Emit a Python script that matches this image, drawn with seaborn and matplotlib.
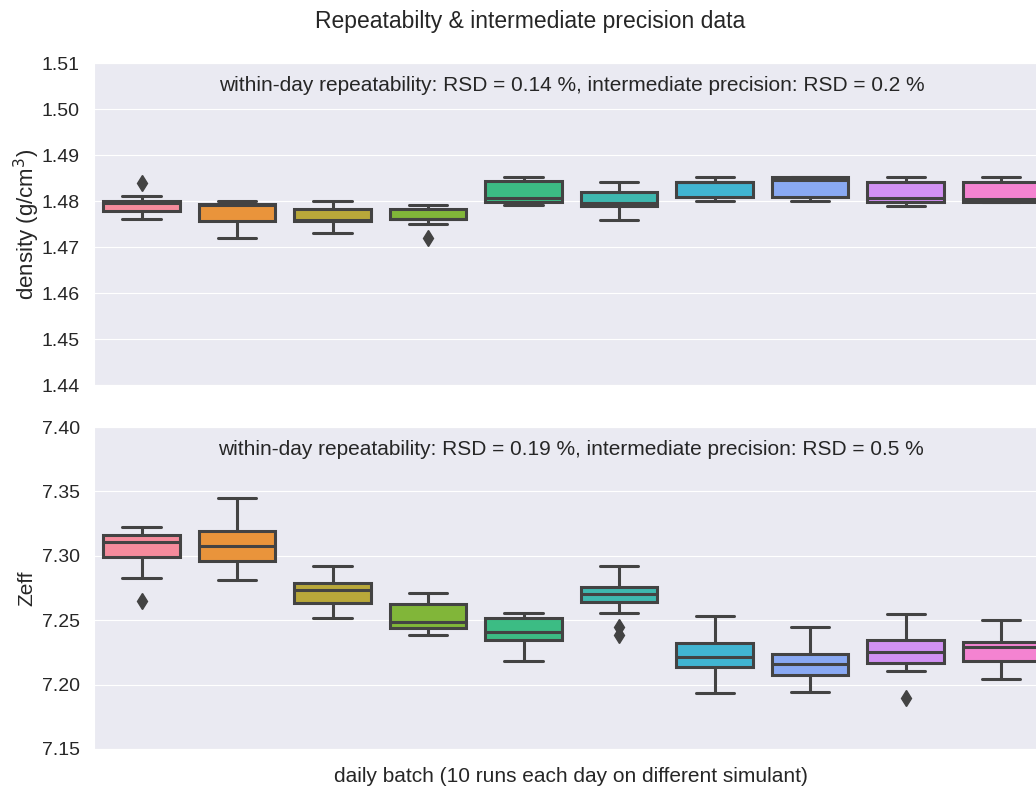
import pandas as pd
import seaborn as sns
import matplotlib.pyplot as plt

days = [f"day {i}" for i in range(1, 11)]

density = [
    [1.4760, 1.4770, 1.4778, 1.4778, 1.4796, 1.4796, 1.4801, 1.4801, 1.4810, 1.4840],
    [1.4720, 1.4740, 1.4757, 1.4757, 1.4791, 1.4793, 1.4793, 1.4793, 1.4797, 1.4800],
    [1.4730, 1.4745, 1.4757, 1.4757, 1.4758, 1.4758, 1.4782, 1.4782, 1.4790, 1.4800],
    [1.4719, 1.4750, 1.4760, 1.4760, 1.4761, 1.4762, 1.4783, 1.4783, 1.4788, 1.4791],
    [1.4791, 1.4795, 1.4799, 1.4799, 1.4806, 1.4808, 1.4844, 1.4844, 1.4848, 1.4852],
    [1.4759, 1.4775, 1.4789, 1.4789, 1.4795, 1.4797, 1.4819, 1.4819, 1.4830, 1.4841],
    [1.4800, 1.4805, 1.4809, 1.4809, 1.4840, 1.4842, 1.4842, 1.4842, 1.4848, 1.4852],
    [1.4800, 1.4805, 1.4809, 1.4809, 1.4845, 1.4847, 1.4852, 1.4852, 1.4852, 1.4852],
    [1.4790, 1.4795, 1.4799, 1.4799, 1.4805, 1.4807, 1.4841, 1.4841, 1.4847, 1.4852],
    [1.4799, 1.4799, 1.4799, 1.4799, 1.4804, 1.4806, 1.4841, 1.4841, 1.4847, 1.4852],
]

zeff = [
    [7.2646, 7.2829, 7.2988, 7.2988, 7.3100, 7.3112, 7.3160, 7.3160, 7.3190, 7.3225],
    [7.2811, 7.2900, 7.2960, 7.2960, 7.3065, 7.3081, 7.3191, 7.3191, 7.3300, 7.3446],
    [7.2518, 7.2580, 7.2633, 7.2633, 7.2730, 7.2738, 7.2793, 7.2793, 7.2850, 7.2921],
    [7.2387, 7.2410, 7.2440, 7.2440, 7.2480, 7.2488, 7.2628, 7.2628, 7.2670, 7.2711],
    [7.2183, 7.2300, 7.2343, 7.2343, 7.2408, 7.2416, 7.2515, 7.2515, 7.2540, 7.2559],
    [7.2385, 7.2450, 7.2559, 7.2667, 7.2690, 7.2700, 7.2706, 7.2740, 7.2760, 7.2760, 7.2850, 7.2921],
    [7.1936, 7.2050, 7.2137, 7.2137, 7.2210, 7.2218, 7.2325, 7.2325, 7.2430, 7.2535],
    [7.1941, 7.2000, 7.2073, 7.2073, 7.2150, 7.2164, 7.2240, 7.2240, 7.2350, 7.2445],
    [7.1898, 7.2106, 7.2170, 7.2170, 7.2250, 7.2260, 7.2348, 7.2348, 7.2450, 7.2546],
    [7.2042, 7.2120, 7.2183, 7.2183, 7.2288, 7.2294, 7.2330, 7.2330, 7.2420, 7.2505],
]

density_text = "within-day repeatability: RSD = 0.14 %, intermediate precision: RSD = 0.2 %"
zeff_text = "within-day repeatability: RSD = 0.19 %, intermediate precision: RSD = 0.5 %"


def long_form(values, name):
    rows = [(d, v) for d, vals in zip(days, values) for v in vals]
    return pd.DataFrame(rows, columns=["day", name])


df_density = long_form(density, "density")
df_zeff = long_form(zeff, "zeff")

sns.set_style("darkgrid")
plt.rcParams["font.family"] = ["Liberation Sans", "DejaVu Sans"]

fig = plt.figure(figsize=(10.36, 7.89), dpi=100)
# the original figure is cut on the right, so the axes run past the edge
ax1 = fig.add_axes([0.0905, 0.512, 0.922, 0.408])
ax2 = fig.add_axes([0.0905, 0.0507, 0.922, 0.408])

box_kw = dict(
    palette=sns.husl_palette(10, l=0.7), saturation=0.95, width=0.8,
    linewidth=2.2, linecolor="#434343", legend=False,
    flierprops=dict(marker="d", markersize=8, markerfacecolor="#434343",
                    markeredgecolor="#434343"),
)

sns.boxplot(data=df_density, x="day", y="density", hue="day", ax=ax1, **box_kw)
sns.boxplot(data=df_zeff, x="day", y="zeff", hue="day", ax=ax2, **box_kw)

ax1.set_ylim(1.44, 1.51)
ax1.set_yticks([1.44, 1.45, 1.46, 1.47, 1.48, 1.49, 1.50, 1.51])
ax1.set_yticklabels([f"{t:.2f}" for t in ax1.get_yticks()])
ax2.set_ylim(7.15, 7.40)
ax2.set_yticks([7.15, 7.20, 7.25, 7.30, 7.35, 7.40])
ax2.set_yticklabels([f"{t:.2f}" for t in ax2.get_yticks()])

for ax in (ax1, ax2):
    ax.set_xlim(-0.5, 9.5)
    ax.set_xticks([])
    ax.set_xlabel("")
    ax.tick_params(axis="y", labelsize=14, labelcolor="#262626", pad=6.5)

ax1.set_ylabel("density (g/cm$^3$)", fontsize=16, color="#262626", labelpad=0)
ax2.set_ylabel("Zeff", fontsize=15, color="#262626")

ax1.text(0.5, 0.93, density_text, transform=ax1.transAxes, ha="center",
         va="center", fontsize=15, color="#262626")
ax2.text(0.5, 0.93, zeff_text, transform=ax2.transAxes, ha="center",
         va="center", fontsize=15, color="#262626")

fig.text(0.5116, 0.973, "Repeatabilty & intermediate precision data",
         ha="center", va="center", fontsize=16.5, color="#262626")
fig.text(0.551, 0.016, "daily batch (10 runs each day on different simulant)",
         ha="center", va="center", fontsize=15, color="#262626")

plt.savefig("out.png", dpi=100)
plt.close()
